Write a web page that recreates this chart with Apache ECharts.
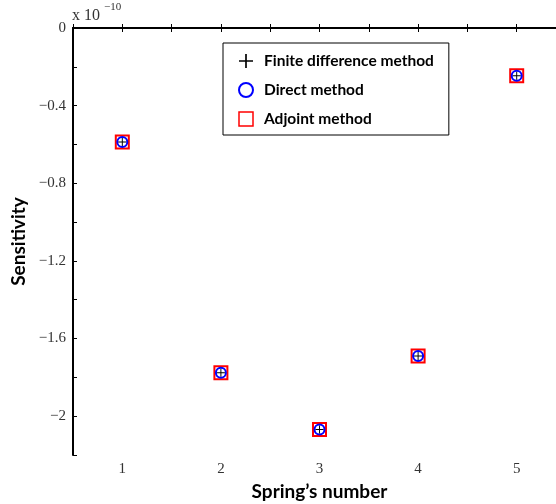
<!DOCTYPE html>
<html>
<head>
<meta charset="utf-8">
<script src="https://cdn.jsdelivr.net/npm/echarts@6/dist/echarts.min.js"></script>
<style>
  html, body { margin: 0; padding: 0; background: #fff; }
  #main { width: 556px; height: 504px; }
</style>
</head>
<body>
<div id="main"></div>
<script>
// spring numbers and sensitivities (x 1e-10)
var springs = [1, 2, 3, 4, 5];
var finiteDiff = [-0.587, -1.776, -2.069, -1.690, -0.246];
var directVals = [-0.587, -1.776, -2.069, -1.690, -0.246];
var adjointVals = [-0.587, -1.776, -2.069, -1.690, -0.246];

var plusPath = 'path://M-0.12,-1 L0.12,-1 L0.12,1 L-0.12,1 Z M-1,-0.12 L1,-0.12 L1,0.12 L-1,0.12 Z';

function pairs(xs, ys) {
  return xs.map(function (x, i) { return [x, ys[i]]; });
}

var myChart = echarts.init(document.getElementById('main'));

var serifFont = '"Liberation Serif", "DejaVu Serif", serif';
var boldFont = 'Lato, "Open Sans", sans-serif';

var option = {
  animation: false,
  backgroundColor: '#fff',
  grid: { left: 73, top: 28, right: -10, bottom: 49, containLabel: false, outerBoundsMode: 'none' },
  legend: {
    orient: 'vertical',
    left: 223,
    top: 43,
    padding: [10, 15, 8, 15],
    itemGap: 13,
    itemWidth: 14,
    itemHeight: 14,
    borderColor: '#000',
    borderWidth: 1,
    backgroundColor: '#fff',
    textStyle: { fontFamily: boldFont, fontWeight: 'bold', fontSize: 15.5, color: '#000', padding: [0, 0, 0, 6] },
    data: [
      { name: 'Finite difference method', icon: plusPath, itemStyle: { color: '#000', borderWidth: 0 } },
      { name: 'Direct method', icon: 'circle', itemStyle: { color: 'transparent', borderColor: '#0000ff', borderWidth: 2 } },
      { name: 'Adjoint method', icon: 'rect', itemStyle: { color: 'transparent', borderColor: '#ff0000', borderWidth: 1.5 } }
    ]
  },
  xAxis: [{
    type: 'value', min: 0.5, max: 5.5, interval: 0.5,
    name: 'Spring’s number', nameLocation: 'middle', nameGap: 24,
    nameTextStyle: { fontFamily: boldFont, fontWeight: 'bold', fontSize: 19, color: '#000' },
    axisLine: { lineStyle: { color: '#000', width: 2 } },
    axisTick: { inside: true, length: 4, lineStyle: { color: '#000', width: 1 } },
    axisLabel: {
      margin: 7, fontFamily: serifFont, fontSize: 15, color: '#333',
      formatter: function (v) { return Math.abs(v - Math.round(v)) < 1e-6 ? String(Math.round(v)) : ''; }
    },
    splitLine: { show: false }
  }, {
    type: 'value', position: 'top', min: 0.5, max: 5.5, interval: 0.5,
    axisLine: { show: true, lineStyle: { color: '#000', width: 2 } },
    axisTick: { show: true, inside: true, length: 4, lineStyle: { color: '#000', width: 1 } },
    axisLabel: { show: false },
    splitLine: { show: false }
  }],
  yAxis: [{
    type: 'value', min: -2.2, max: 0, interval: 0.2,
    name: 'Sensitivity', nameLocation: 'middle', nameGap: 42,
    nameTextStyle: { fontFamily: boldFont, fontWeight: 'bold', fontSize: 19, color: '#000' },
    axisLine: { show: true, lineStyle: { color: '#000', width: 2 } },
    axisTick: { show: true, inside: true, length: 4, lineStyle: { color: '#000', width: 1 } },
    axisLabel: {
      margin: 7, fontFamily: serifFont, fontSize: 15, color: '#333',
      formatter: function (v) {
        var k = Math.round(v * 10);
        if (k % 4 !== 0) return '';
        if (k === 0) return '0';
        return '\u2212' + (Math.abs(k) / 10).toString();
      }
    },
    splitLine: { show: false }
  }, {
    type: 'value', position: 'right', min: -2.2, max: 0, interval: 0.2,
    axisLine: { show: true, lineStyle: { color: '#000', width: 2 } },
    axisTick: { show: true, inside: true, length: 4 },
    axisLabel: { show: false },
    splitLine: { show: false }
  }],
  graphic: [{
    type: 'text', left: 72, top: 8,
    style: { text: 'x 10', fontFamily: serifFont, fontSize: 16, fill: '#333' }
  }, {
    type: 'text', left: 104, top: 2,
    style: { text: '\u221210', fontFamily: serifFont, fontSize: 11, fill: '#333' }
  }],
  series: [{
    name: 'Adjoint method', type: 'scatter',
    data: pairs(springs, adjointVals),
    symbol: 'rect', symbolSize: 13,
    itemStyle: { color: 'transparent', borderColor: '#ff0000', borderWidth: 2, opacity: 1 }
  }, {
    name: 'Direct method', type: 'scatter',
    data: pairs(springs, directVals),
    symbol: 'circle', symbolSize: 10,
    itemStyle: { color: 'transparent', borderColor: '#0000ff', borderWidth: 2, opacity: 1 }
  }, {
    name: 'Finite difference method', type: 'scatter',
    data: pairs(springs, finiteDiff),
    symbol: plusPath, symbolSize: 8,
    itemStyle: { color: '#000', opacity: 1 }
  }]
};

myChart.setOption(option);
window.onresize = myChart.resize;
</script>
</body>
</html>
